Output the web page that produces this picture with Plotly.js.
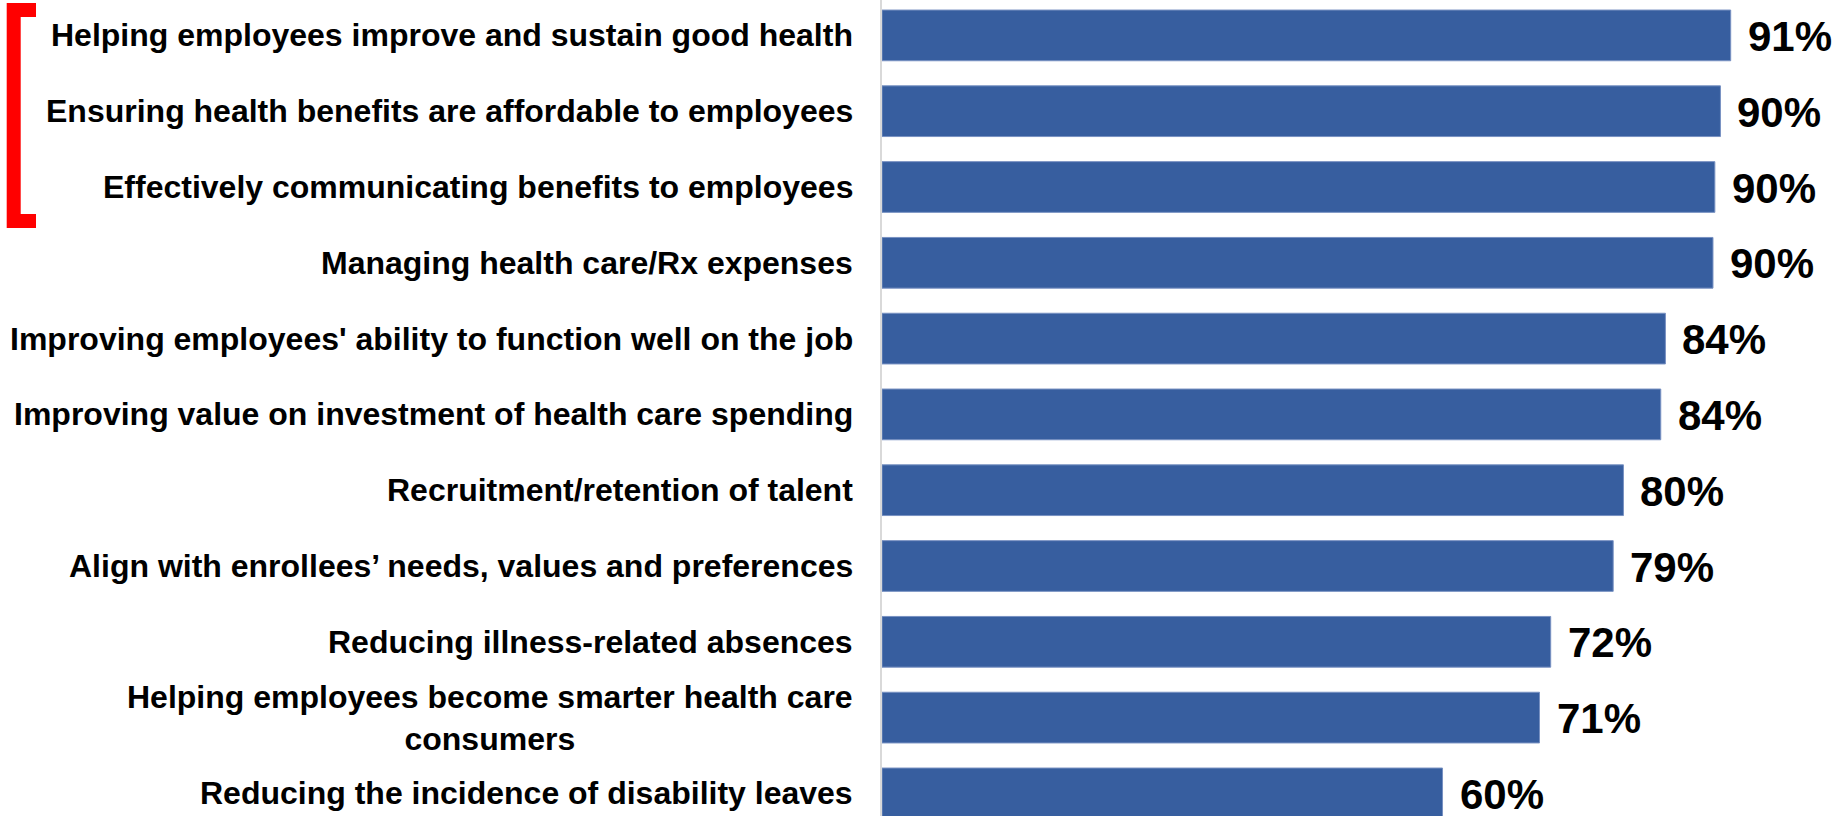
<!DOCTYPE html>
<html>
<head>
<meta charset="utf-8">
<script src="https://cdn.plot.ly/plotly-3.0.1.min.js"></script>
<style>
  html, body { margin: 0; padding: 0; background: #ffffff; }
  #chart { width: 1848px; height: 816px; }
</style>
</head>
<body>
<div id="chart"></div>
<script>
// ---- data ----
var categories = [
  "Helping employees improve and sustain good health",
  "Ensuring health benefits are affordable to employees",
  "Effectively communicating benefits to employees",
  "Managing health care/Rx expenses",
  "Improving employees' ability to function well on the job",
  "Improving value on investment of health care spending",
  "Recruitment/retention of talent",
  "Align with enrollees\u2019 needs, values and preferences",
  "Reducing illness-related absences",
  "Helping employees become smarter health care<br>consumers",
  "Reducing the incidence of disability leaves"
];
var values = [91, 89.9, 89.3, 89.1, 84.0, 83.5, 79.5, 78.4, 71.7, 70.5, 60.1];
var valueLabels = ["91%", "90%", "90%", "90%", "84%", "84%", "80%", "79%", "72%", "71%", "60%"];

// ---- layout constants ----
var W = 1848, H = 816;
var LEFT = 882;
var FONT = "Liberation Sans, Arial, Helvetica, sans-serif";
var catIdx = categories.map(function (c, i) { return i; });

function px2paperX(px) { return (px - LEFT) / (W - LEFT); }
function px2paperY(py) { return 1 - py / H; }

var trace = {
  type: "bar",
  orientation: "h",
  x: values,
  y: catIdx,
  marker: { color: "#375E9F", line: { color: "#7891C2", width: 1 } },
  hoverinfo: "skip",
  showlegend: false
};

var annotations = [];
categories.forEach(function (c, i) {
  annotations.push({
    xref: "paper", yref: "y",
    x: 0, y: i,
    xanchor: "right", yanchor: "middle",
    xshift: -27,
    align: "center",
    text: "<b>" + c + "</b>",
    showarrow: false,
    font: { family: FONT, size: 32, color: "#000000" }
  });
  annotations.push({
    xref: "x", yref: "y",
    x: values[i], y: i,
    xanchor: "left", yanchor: "middle",
    xshift: 15, yshift: -1,
    text: "<b>" + valueLabels[i] + "</b>",
    showarrow: false,
    font: { family: FONT, size: 42, color: "#000000" }
  });
});

// red bracket (decoration) in pixel-derived paper coordinates
var bx = px2paperX(13.7), bxe = px2paperX(36);
var byt = px2paperY(10), byb = px2paperY(221);
var shapes = [{
  type: "path",
  xref: "paper", yref: "paper",
  path: "M " + bxe + "," + byt + " L " + bx + "," + byt + " L " + bx + "," + byb + " L " + bxe + "," + byb,
  line: { color: "#FF0000", width: 14 },
  layer: "above"
}];

var layout = {
  width: W, height: H,
  margin: { l: LEFT, r: 0, t: 0, b: 0, pad: 0 },
  paper_bgcolor: "#ffffff",
  plot_bgcolor: "#ffffff",
  bargap: 0.331,
  xaxis: {
    range: [0, (W - LEFT) / ((1730.7 - LEFT) / 91)],
    showgrid: false, zeroline: false, showline: false,
    showticklabels: false, ticks: "", fixedrange: true
  },
  yaxis: {
    type: "linear",
    range: [(H - 35.4) / 75.8, -35.4 / 75.8],
    showgrid: false, zeroline: false,
    showline: true, linecolor: "#D9D9D9", linewidth: 2,
    showticklabels: false, ticks: "", fixedrange: true
  },
  annotations: annotations,
  shapes: shapes,
  font: { family: FONT }
};

Plotly.newPlot("chart", [trace], layout, { displayModeBar: false, staticPlot: true });
</script>
</body>
</html>
